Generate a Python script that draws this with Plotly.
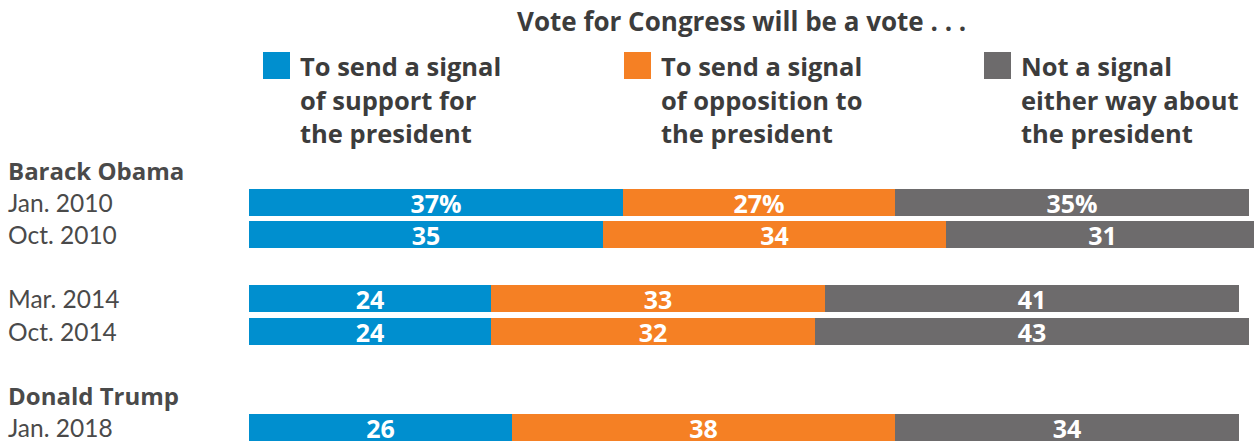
import plotly.graph_objects as go

# Survey data
periods = ["Jan. 2010", "Oct. 2010", "Mar. 2014", "Oct. 2014", "Jan. 2018"]
groups = ["Barack Obama", "Donald Trump"]
support = [37, 35, 24, 24, 26]
opposition = [27, 34, 33, 32, 38]
no_signal = [35, 31, 41, 43, 34]

series_names = [
    ["To send a signal", "of support for", "the president"],
    ["To send a signal", "of opposition to", "the president"],
    ["Not a signal", "either way about", "the president"],
]
title_text = "Vote for Congress will be a vote . . ."

COLORS = ["#008FCF", "#F58024", "#6D6B6C"]
W, H = 1254, 441
FONT = "Lato"
BOLD_FONT = "Open Sans"
LABEL_COLOR = "#4A4A4A"
LEGEND_COLOR = "#3C3C3C"

# vertical layout (pixel units on a reversed y axis)
SLOT0, SLOT = 202.5, 32.15
row_slots = [0, 1, 3, 4, 7]
group_slots = [-1, 6]
row_y = [SLOT0 + SLOT * s for s in row_slots]
group_y = [SLOT0 + SLOT * s for s in group_slots]

fig = go.Figure()
for k, vals in enumerate([support, opposition, no_signal]):
    texts = [f"{v}%" if i == 0 else str(v) for i, v in enumerate(vals)]
    fig.add_trace(go.Bar(
        x=vals, y=row_y, orientation="h", width=27,
        marker=dict(color=COLORS[k], line=dict(width=0)),
        text=texts, textposition="inside", insidetextanchor="middle", textangle=0,
        textfont=dict(family=BOLD_FONT, size=25, color="white", weight="bold"),
        constraintext="none", hoverinfo="skip", showlegend=False,
    ))

ann = []
# title
ann.append(dict(text=title_text, x=741 / W, y=21, xref="paper", yref="y",
                xanchor="center", yanchor="middle", showarrow=False,
                font=dict(family=BOLD_FONT, size=26, color=LEGEND_COLOR, weight="bold")))

# custom legend
shapes = []
leg_x = [263, 624, 984]
for k, lines in enumerate(series_names):
    x0 = leg_x[k]
    shapes.append(dict(type="rect", xref="paper", yref="y",
                       x0=x0 / W, x1=(x0 + 27) / W, y0=52, y1=79,
                       fillcolor=COLORS[k], line=dict(width=0)))
    for j, line in enumerate(lines):
        ann.append(dict(text=line, x=(x0 + 35) / W, y=66 + 33.5 * j,
                        xref="paper", yref="y", xanchor="left", yanchor="middle",
                        showarrow=False,
                        font=dict(family=BOLD_FONT, size=25.5, color=LEGEND_COLOR, weight="bold")))

# row labels
for name, y in zip(groups, group_y):
    ann.append(dict(text=name, x=6 / W, y=y, xref="paper", yref="y",
                    xanchor="left", yanchor="middle", showarrow=False,
                    font=dict(family=BOLD_FONT, size=24, color=LABEL_COLOR, weight="bold")))
for name, y in zip(periods, row_y):
    ann.append(dict(text=name, x=6 / W, y=y, xref="paper", yref="y",
                    xanchor="left", yanchor="middle", showarrow=False,
                    font=dict(family=FONT, size=24.5, color=LABEL_COLOR)))

fig.update_layout(
    width=W, height=H, barmode="stack", bargap=0,
    margin=dict(l=0, r=0, t=0, b=0),
    paper_bgcolor="white", plot_bgcolor="white",
    xaxis=dict(domain=[249 / W, 1], range=[0, 99.5], visible=False, fixedrange=True),
    yaxis=dict(domain=[0, 1], range=[H, 0], visible=False, fixedrange=True),
    annotations=ann, shapes=shapes,
)

fig.write_html("out.html", config={"displayModeBar": False})
